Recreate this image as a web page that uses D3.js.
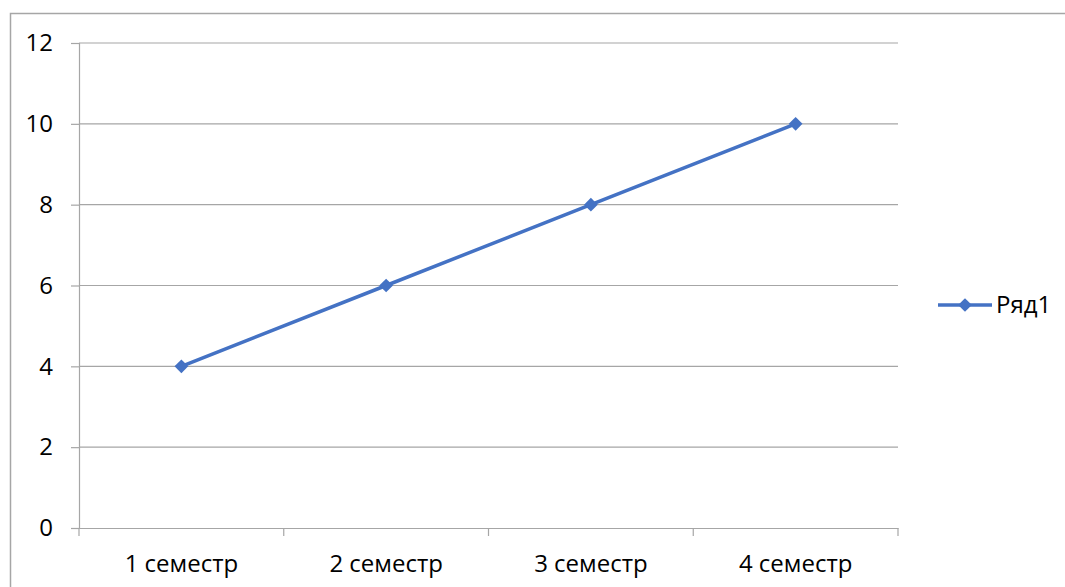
<!DOCTYPE html>
<html>
<head>
<meta charset="utf-8">
<script src="https://cdn.jsdelivr.net/npm/d3@7"></script>
<style>
  body { margin: 0; background: #fff; }
  svg text { font-family: "Open Sans", "Liberation Sans", sans-serif; font-size: 24px; fill: #000; }
</style>
</head>
<body>
<div id="chart"></div>
<script>
var categories = ["1 семестр", "2 семестр", "3 семестр", "4 семестр"];
var values = [4, 6, 8, 10];
var yTicks = [0, 2, 4, 6, 8, 10, 12];
var seriesName = "Ряд1";

var W = 1065, H = 587;
var margin = {top: 43, left: 79, right: 167, bottom: 59};
var width = W - margin.left - margin.right;
var height = H - margin.top - margin.bottom;

var svg = d3.select("#chart").append("svg")
    .attr("width", W)
    .attr("height", H);

// outer chart border
svg.append("rect")
    .attr("x", 10.5).attr("y", 13.5)
    .attr("width", W + 20).attr("height", H + 20)
    .attr("fill", "none")
    .attr("stroke", "#a6a6a6")
    .attr("stroke-width", 1.5);

var g = svg.append("g")
    .attr("transform", "translate(" + margin.left + "," + margin.top + ")");

var xScale = d3.scaleBand().domain(categories).range([0, width]);
var yScale = d3.scaleLinear().domain([0, 12]).range([height, 0]);

// gridlines
g.selectAll(".grid")
    .data(yTicks.filter(function(d) { return d > 0; }))
    .enter().append("line")
    .attr("x1", 0).attr("x2", width)
    .attr("y1", function(d) { return yScale(d); })
    .attr("y2", function(d) { return yScale(d); })
    .attr("stroke", "#a6a6a6")
    .attr("stroke-width", 1.2);

// y axis
var yAxis = g.append("g")
    .call(d3.axisLeft(yScale).tickValues(yTicks).tickSize(8).tickPadding(18));
yAxis.select(".domain").attr("stroke", "#a6a6a6").attr("stroke-width", 1.2);
yAxis.selectAll(".tick line").attr("stroke", "#a6a6a6").attr("stroke-width", 1.2);

// x axis
var xAxis = g.append("g")
    .attr("transform", "translate(0," + height + ")")
    .call(d3.axisBottom(xScale).tickSize(0).tickPadding(27));
xAxis.select(".domain").attr("stroke", "#a6a6a6").attr("stroke-width", 1.2);

// x tick marks at category boundaries
var bounds = categories.map(function(c) { return xScale(c); }).concat([width]);
xAxis.selectAll(".bound")
    .data(bounds)
    .enter().append("line")
    .attr("x1", function(d) { return d; }).attr("x2", function(d) { return d; })
    .attr("y1", 0).attr("y2", 8)
    .attr("stroke", "#a6a6a6")
    .attr("stroke-width", 1.2);

var color = "#4472c4";
var line = d3.line()
    .x(function(d, i) { return xScale(categories[i]) + xScale.bandwidth() / 2; })
    .y(function(d) { return yScale(d); });

g.append("path")
    .datum(values)
    .attr("d", line)
    .attr("fill", "none")
    .attr("stroke", color)
    .attr("stroke-width", 3.5);

var diamond = d3.symbol().type(d3.symbolDiamond2).size(120);
g.selectAll(".pt")
    .data(values)
    .enter().append("path")
    .attr("d", diamond)
    .attr("transform", function(d, i) {
        return "translate(" + (xScale(categories[i]) + xScale.bandwidth() / 2) + "," + yScale(d) + ")";
    })
    .attr("fill", color);

// legend
var legend = svg.append("g").attr("transform", "translate(938,305)");
legend.append("line")
    .attr("x1", 0).attr("x2", 54)
    .attr("stroke", color).attr("stroke-width", 3.5);
legend.append("path")
    .attr("d", diamond)
    .attr("transform", "translate(27,0)")
    .attr("fill", color);
legend.append("text")
    .attr("x", 58).attr("y", 0).attr("dy", "0.35em")
    .text(seriesName);
</script>
</body>
</html>
